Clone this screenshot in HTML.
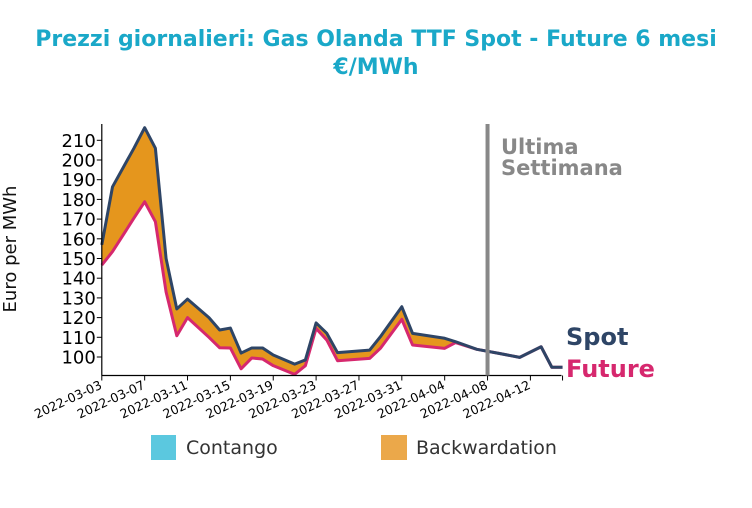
<!DOCTYPE html>
<html><head><meta charset="utf-8"><style>
body{margin:0;background:#fff;width:752px;height:504px;overflow:hidden;font-family:"DejaVu Sans","Liberation Sans",sans-serif}
</style></head><body>
<svg id="chart" width="752" height="504" xmlns="http://www.w3.org/2000/svg" font-family="DejaVu Sans, Liberation Sans, sans-serif">
<text x="376" y="46" text-anchor="middle" font-size="22" font-weight="bold" fill="#1aa8c8">Prezzi giornalieri: Gas Olanda TTF Spot - Future 6 mesi</text>
<text x="376" y="74" text-anchor="middle" font-size="22" font-weight="bold" fill="#1aa8c8">€/MWh</text>
<text transform="translate(16,249) rotate(-90)" text-anchor="middle" font-size="18" fill="#111">Euro per MWh</text>
<g id="plot"></g>
<g>
<rect x="151" y="435" width="25" height="25" fill="#5bc8df"/>
<text x="186" y="454" font-size="19" fill="#333">Contango</text>
<rect x="381" y="435" width="26" height="25" fill="#eba84a"/>
<text x="416" y="454" font-size="19" fill="#333">Backwardation</text>
</g>
</svg>
<script>
const startDate = "2022-03-03";
const dayIndex = [0,1,3,4,5,6,7,8,10,11,12,13,14,15,16,18,19,20,21,22,25,26,28,29,32,33,35,37,39,41,42,43];
const spotValues = [156.9,186.4,206,216.4,206,150,124.4,129.4,120,113.7,114.7,102,104.6,104.6,101,96.4,98.5,117.3,112,102.2,103.5,110.3,125.5,112,109.5,107.8,103.9,101.9,99.8,105.2,94.8,94.8];
const futureValues = [146.7,153.5,170.5,178.8,168.7,133,110.8,120,110,104.7,104.6,94,99.5,99,95.6,91.2,95.6,114.5,108.6,98.1,99.3,104.4,119.1,106.1,104.4,107.3,103.9,101.9,99.8,105.2,94.8,94.8];
const yTicks = [100,110,120,130,140,150,160,170,180,190,200,210];
const xTickDays = [0,4,8,12,16,20,24,28,32,36,40];
const xTickLabels = ["2022-03-03","2022-03-07","2022-03-11","2022-03-15","2022-03-19","2022-03-23","2022-03-27","2022-03-31","2022-04-04","2022-04-08","2022-04-12"];
const lastWeekDay = 36;

const NS="http://www.w3.org/2000/svg";
const X0=101.8, PX=10.715, Y100=357, PY=1.97;
const xs=d=>X0+d*PX;
const ys=v=>Y100-(v-100)*PY;
const plot=document.getElementById('plot');
function mk(tag,attrs){const e=document.createElementNS(NS,tag);for(const k in attrs)e.setAttribute(k,attrs[k]);plot.appendChild(e);return e;}

// fill between
let pts=dayIndex.map((d,i)=>xs(d)+','+ys(spotValues[i]));
let pts2=dayIndex.map((d,i)=>xs(d)+','+ys(futureValues[i])).reverse();
const area=mk('polygon',{points:pts.concat(pts2).join(' '),fill:'#e5961d'});



const fl=mk('polyline',{points:dayIndex.map((d,i)=>xs(d)+','+ys(futureValues[i])).join(' '),fill:'none',stroke:'#d6286e','stroke-width':3,'stroke-linejoin':'round'});


const sl=mk('polyline',{points:pts.join(' '),fill:'none',stroke:'#2e4566','stroke-width':3,'stroke-linejoin':'round'});



// axes
const ya=mk('line',{x1:X0,y1:124,x2:X0,y2:375.5,stroke:'#000','stroke-width':1.2});


const xa=mk('line',{x1:X0,y1:375.5,x2:561.5,y2:375.5,stroke:'#000','stroke-width':1.2});


yTicks.forEach(v=>{
  const t=mk('line',{x1:X0-5,y1:ys(v),x2:X0,y2:ys(v),stroke:'#000','stroke-width':1});
  
  
  const l=mk('text',{x:X0-6,y:ys(v)+6.5,'text-anchor':'end','font-size':18,fill:'#000'});
  l.textContent=v;
  
  
});
xTickDays.concat([43]).forEach(d=>{
  const t=mk('line',{x1:xs(d),y1:375.5,x2:xs(d),y2:380.5,stroke:'#000','stroke-width':1});
  
  
});
xTickDays.forEach((d,i)=>{
  const l=mk('text',{transform:`translate(${xs(d)+1},388) rotate(-25)`,'text-anchor':'end','font-size':12.5,fill:'#000'});
  l.textContent=xTickLabels[i];
  
  
});
const vl=mk('line',{x1:xs(lastWeekDay),y1:124,x2:xs(lastWeekDay),y2:375.5,stroke:'#888','stroke-width':4});


const t1=mk('text',{x:501,y:154,'font-size':21,'font-weight':'bold',fill:'#888'});t1.textContent='Ultima';


const t2=mk('text',{x:501,y:175,'font-size':21,'font-weight':'bold',fill:'#888'});t2.textContent='Settimana';


const s1=mk('text',{x:566,y:345,'font-size':24,'font-weight':'bold',fill:'#2e4566'});s1.textContent='Spot';


const s2=mk('text',{x:566,y:377,'font-size':24,'font-weight':'bold',fill:'#d6286e'});s2.textContent='Future';


</script>
</body></html>
